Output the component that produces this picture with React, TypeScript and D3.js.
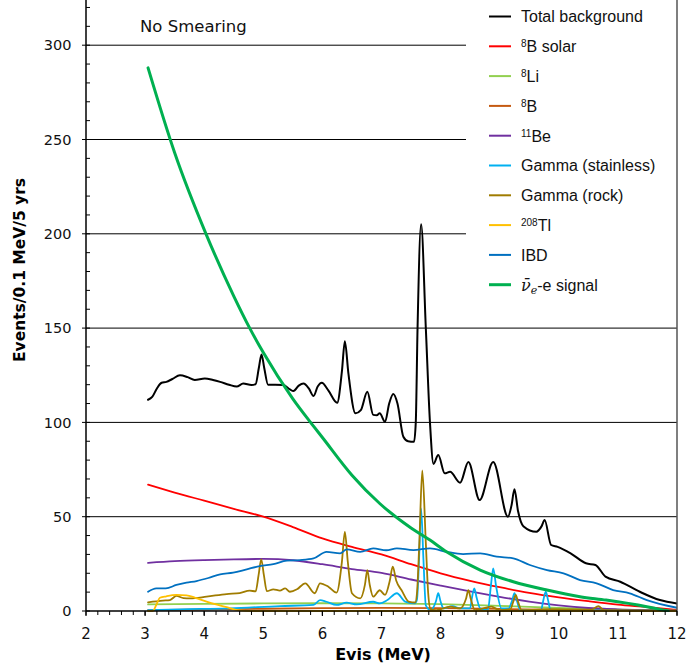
import React from "react";
import * as d3 from "d3";

type P = [number, number];

// ---- data (Evis MeV, events / 0.1 MeV / 5 yrs) ----
const totalBackground: P[] = [
  [3.05, 112], [3.12, 113.5], [3.2, 118], [3.28, 121], [3.36, 121.5], [3.46, 123], [3.59, 125],
  [3.72, 124], [3.84, 122.5], [4.01, 123.3], [4.15, 122.5], [4.27, 121.5], [4.42, 120], [4.55, 119],
  [4.66, 120.6], [4.8, 119.8], [4.87, 120.3], [4.925, 129], [4.97, 136], [5.015, 129], [5.08, 120],
  [5.2, 120], [5.34, 119.8], [5.45, 117.5], [5.51, 116.6], [5.6, 119.5], [5.68, 120.6], [5.77, 118],
  [5.85, 114], [5.92, 119], [5.99, 121], [6.1, 117], [6.25, 110.4], [6.33, 127], [6.38, 143],
  [6.44, 126], [6.56, 104.8], [6.65, 106.5], [6.76, 116.2], [6.86, 104], [6.92, 103.8], [6.97, 104.8],
  [7.06, 100.3], [7.13, 110], [7.2, 115], [7.27, 110], [7.37, 92.4], [7.45, 90], [7.55, 89.7],
  [7.58, 100], [7.61, 150], [7.67, 205], [7.75, 150], [7.82, 100], [7.88, 78], [7.96, 82.7],
  [8.07, 73], [8.16, 73.8], [8.33, 68], [8.47, 79], [8.66, 58.8], [8.89, 79], [9.14, 50],
  [9.2, 56], [9.25, 64.5], [9.31, 53], [9.4, 45], [9.62, 42], [9.71, 45], [9.76, 48.2], [9.87, 35],
  [9.98, 34], [10.2, 30.6], [10.46, 25.3], [10.62, 24.4], [10.79, 18.2], [11.04, 15.5],
  [11.37, 10.2], [11.71, 5.8], [12, 4],
];

const b8Solar: P[] = [
  [3.05, 67], [3.5, 62.8], [4, 58.5], [4.5, 54.2], [5, 50], [5.5, 44.5], [6, 38.5], [6.5, 34],
  [7, 30], [7.5, 24.8], [8, 20], [8.5, 16], [9, 12.6], [9.5, 9.6], [10, 7.2], [10.5, 5.2],
  [11, 3.4], [11.5, 2.1], [12, 0.6],
];

const li8: P[] = [
  [3.05, 3.5], [4, 3.8], [5, 4], [6, 4.1], [7, 4], [8, 3.6], [9, 2.7], [10, 1.6], [11, 0.7], [12, 0.2],
];

const b8: P[] = [
  [3.05, 0.4], [4, 0.8], [5, 1.2], [6, 1.5], [7, 1.7], [8, 1.5], [9, 1.1], [10, 0.6], [11, 0.3], [12, 0.1],
];

const be11: P[] = [
  [3.05, 25.5], [3.5, 26.4], [4, 27], [4.5, 27.4], [5, 27.6], [5.5, 26.9], [6, 24.8], [6.5, 22.2],
  [7, 20.2], [7.5, 16.7], [8, 13.5], [8.5, 10.4], [9, 7.5], [9.5, 5], [10, 3], [10.5, 1.6],
  [11, 0.9], [11.5, 0.5], [12, 0.2],
];

const gammaStainless: P[] = [
  [3.05, 0.5], [3.59, 0.9], [4.44, 1.4], [5.28, 2.6], [5.85, 3.2], [5.96, 5.8], [6.07, 4.9],
  [6.24, 3.2], [6.41, 4.4], [6.58, 3.5], [6.86, 4.9], [6.97, 4], [7.1, 5.8], [7.26, 9.4],
  [7.4, 5], [7.56, 4], [7.6, 6], [7.635, 27], [7.67, 54.4], [7.71, 27], [7.75, 3], [7.83, 0.5],
  [7.92, 5], [7.96, 9.4], [8.0, 5], [8.05, 1.4], [8.2, 2.6], [8.33, 1.4], [8.5, 1.4], [8.53, 7],
  [8.57, 12], [8.61, 7], [8.67, 1.4], [8.8, 0.5], [8.85, 13], [8.89, 22.6], [8.94, 13], [9.03, 1.4],
  [9.15, 1.4], [9.21, 5.5], [9.25, 9.4], [9.29, 5.5], [9.35, 0.5], [9.7, 0.5], [9.74, 6],
  [9.78, 10.2], [9.82, 5.5], [9.86, 0.5], [12, 0],
];

const gammaRock: P[] = [
  [3.05, 4.6], [3.3, 5.5], [3.42, 5.8], [3.53, 8], [3.65, 6.8], [3.76, 6.7], [4.04, 7.6],
  [4.38, 9], [4.6, 9.5], [4.77, 10.8], [4.87, 10.4], [4.92, 19], [4.965, 27.4], [5.01, 19],
  [5.06, 10.5], [5.17, 11.5], [5.28, 10.8], [5.37, 12], [5.45, 10.2], [5.57, 11.5], [5.71, 14.7],
  [5.87, 9.4], [5.96, 14.7], [6.1, 12.9], [6.24, 9.7], [6.33, 26], [6.38, 42], [6.43, 26],
  [6.5, 9.4], [6.64, 6.7], [6.72, 14], [6.76, 21.7], [6.8, 14], [6.86, 7.6], [6.97, 11],
  [7.06, 8.5], [7.14, 16], [7.19, 23.5], [7.25, 16], [7.34, 11], [7.46, 5], [7.57, 4.5],
  [7.6, 9.4], [7.64, 36], [7.69, 74.5], [7.75, 36], [7.79, 9.4], [7.83, 1], [7.93, 0.5],
  [8.16, 2.3], [8.33, 1.4], [8.43, 6.5], [8.47, 11], [8.51, 6.5], [8.58, 0.5], [8.86, 2.3],
  [9.0, 0.5], [9.18, 1], [9.23, 5], [9.27, 8.5], [9.31, 5], [9.37, 0.5], [9.88, 1], [10.55, 0.7],
  [10.67, 2.6], [10.76, 0.5], [12, 0.2],
];

const tl208: P[] = [
  [3.05, 0], [3.13, 0], [3.2, 4], [3.25, 7], [3.36, 7.8], [3.53, 8.5], [3.7, 8.3], [3.85, 7],
  [4.04, 5], [4.2, 3.5], [4.38, 2], [4.6, 0.3], [4.8, 0], [12, 0],
];

const ibd: P[] = [
  [3.05, 10.2], [3.19, 12], [3.35, 12], [3.53, 13.8], [3.7, 15], [3.87, 15.9], [4.07, 17.5],
  [4.27, 19.4], [4.49, 20.3], [4.72, 22.1], [4.94, 23.8], [5.17, 24.9], [5.4, 26.7], [5.62, 27],
  [5.85, 27.9], [6.07, 31.4], [6.3, 30.6], [6.41, 32.7], [6.64, 31.4], [6.86, 33.2], [7.08, 32.2],
  [7.26, 33.2], [7.54, 32.3], [7.82, 33.2], [8.1, 31.4], [8.38, 30.2], [8.67, 30.6], [8.95, 28.8],
  [9.23, 27.9], [9.51, 24.4], [9.8, 21.7], [10.08, 20], [10.36, 16.4], [10.64, 14.7],
  [10.92, 11.1], [11.2, 9.4], [11.49, 5.8], [12, 1.7],
];

const signal: P[] = [
  [3.05, 288], [3.5, 243], [4.03, 200], [4.5, 167], [4.77, 150], [5, 137], [5.5, 112.5],
  [5.8, 100], [6, 92], [6.5, 72], [6.97, 57], [7.5, 44], [7.82, 37.6], [8.1, 31.4], [8.67, 21.7],
  [9.23, 15.5], [9.8, 11.1], [10.36, 7.6], [10.8, 5.8], [11.49, 2.3], [11.85, 0],
];

const xTicks = [2, 3, 4, 5, 6, 7, 8, 9, 10, 11, 12];
const yTicks = [0, 50, 100, 150, 200, 250, 300];

type Series = { key: string; data: P[]; color: string; width: number };
const seriesList: Series[] = [
  { key: "total", data: totalBackground, color: "#000000", width: 2 },
  { key: "b8solar", data: b8Solar, color: "#ff0000", width: 1.8 },
  { key: "li8", data: li8, color: "#92d050", width: 1.8 },
  { key: "b8", data: b8, color: "#c55a11", width: 1.8 },
  { key: "be11", data: be11, color: "#7030a0", width: 1.8 },
  { key: "stainless", data: gammaStainless, color: "#00b0f0", width: 1.8 },
  { key: "rock", data: gammaRock, color: "#a07c00", width: 1.8 },
  { key: "tl", data: tl208, color: "#ffc000", width: 1.8 },
  { key: "ibd", data: ibd, color: "#0070c0", width: 1.8 },
  { key: "signal", data: signal, color: "#00b050", width: 3 },
];

const W = 689;
const H = 671;
const X0 = 86;
const X1 = 677;
const Y0 = 611;

export default function App() {
  const x = d3.scaleLinear().domain([2, 12]).range([X0, X1]);
  const y = d3.scaleLinear().domain([0, 300]).range([Y0, 45.2]);
  const line = d3
    .line<P>()
    .x((d) => x(d[0]))
    .y((d) => y(d[1]))
    .curve(d3.curveMonotoneX);

  const xMinor = d3.range(20, 121, 2).map((v) => v / 10);
  const yMinor = d3.range(0, 330, 10);
  const yTop = y(324);

  const legendX = 489;
  const legendY0 = 16.5;
  const legendDy = 29.8;
  const legendFont = "'Liberation Sans', Arial, sans-serif";

  const sup = (s: string, rest: string) => (
    <>
      <tspan fontSize={10} dy={-5}>{s}</tspan>
      <tspan dy={5}>{rest}</tspan>
    </>
  );

  const legendLabels: React.ReactNode[] = [
    <tspan>Total background</tspan>,
    sup("8", "B solar"),
    sup("8", "Li"),
    sup("8", "B"),
    sup("11", "Be"),
    <tspan>Gamma (stainless)</tspan>,
    <tspan>Gamma (rock)</tspan>,
    sup("208", "Tl"),
    <tspan>IBD</tspan>,
    <>
      <tspan fontFamily="'DejaVu Serif', serif" fontStyle="italic">{"\u03bd\u0304"}</tspan>
      <tspan fontFamily="'DejaVu Serif', serif" fontStyle="italic" fontSize={11} dy={3}>e</tspan>
      <tspan dy={-3}>-e signal</tspan>
    </>,
  ];

  return (
    <svg
      width={W}
      height={H}
      style={{ position: "absolute", left: 0, top: 0, background: "#fff" }}
      fontFamily="'DejaVu Sans', Verdana, sans-serif"
    >
      <defs>
        <clipPath id="plotClip">
          <rect x={X0} y={0} width={X1 - X0} height={Y0 + 1} />
        </clipPath>
      </defs>
      <rect x={0} y={0} width={W} height={H} fill="#fff" />

      {/* gridlines */}
      {yTicks
        .filter((t) => t > 0)
        .map((t) => (
          <line key={"g" + t} x1={X0} x2={X1} y1={y(t)} y2={y(t)} stroke="#000" strokeWidth={1} />
        ))}

      {/* legend background */}
      <rect x={466} y={0} width={211} height={300} fill="#fff" />

      {/* series */}
      <g clipPath="url(#plotClip)" fill="none" strokeLinejoin="round" strokeLinecap="round">
        {seriesList.map((s) => (
          <path key={s.key} d={line(s.data) || ""} stroke={s.color} strokeWidth={s.width} />
        ))}
      </g>

      {/* axes */}
      <line x1={X0} x2={X0} y1={yTop} y2={Y0} stroke="#000" strokeWidth={1.5} />
      <line x1={X1} x2={X1} y1={yTop} y2={Y0} stroke="#555" strokeWidth={1.5} />
      <line x1={X0} x2={X1} y1={Y0} y2={Y0} stroke="#000" strokeWidth={1.5} />

      {yMinor.map((t) => (
        <line key={"ym" + t} x1={X0} x2={X0 + 4} y1={y(t)} y2={y(t)} stroke="#000" strokeWidth={1} />
      ))}
      {yTicks.map((t) => (
        <g key={"yt" + t}>
          <line x1={X0 - 4} x2={X0} y1={y(t)} y2={y(t)} stroke="#000" strokeWidth={1} />
          <text x={71.5} y={y(t) + 5.2} textAnchor="end" fontSize={14.5} fill="#111">
            {t}
          </text>
        </g>
      ))}

      {xMinor.map((t) => (
        <line key={"xm" + t} x1={x(t)} x2={x(t)} y1={Y0} y2={Y0 + 4} stroke="#000" strokeWidth={1} />
      ))}
      {xTicks.map((t) => (
        <g key={"xt" + t}>
          <line x1={x(t)} x2={x(t)} y1={Y0} y2={Y0 + 5} stroke="#000" strokeWidth={1.2} />
          <text x={x(t)} y={638.5} textAnchor="middle" fontSize={15} fill="#111">
            {t}
          </text>
        </g>
      ))}

      {/* axis titles */}
      <text x={383} y={660} textAnchor="middle" fontSize={16} fontWeight="bold" fill="#000">
        Evis (MeV)
      </text>
      <text
        transform="translate(25,270) rotate(-90)"
        textAnchor="middle"
        fontSize={15.5}
        fontWeight="bold"
        fill="#000"
      >
        Events/0.1 MeV/5 yrs
      </text>

      <text x={140} y={32} fontSize={16.5} fill="#111">
        No Smearing
      </text>

      {/* legend */}
      {seriesList.map((s, i) => {
        const ly = legendY0 + i * legendDy;
        return (
          <g key={"lg" + s.key}>
            <line
              x1={legendX}
              x2={legendX + 22}
              y1={ly}
              y2={ly}
              stroke={s.color}
              strokeWidth={s.key === "signal" ? 3 : 2}
            />
            <text x={521} y={ly + 5.8} fontSize={16} fontFamily={legendFont} fill="#111">
              {legendLabels[i]}
            </text>
          </g>
        );
      })}
    </svg>
  );
}
